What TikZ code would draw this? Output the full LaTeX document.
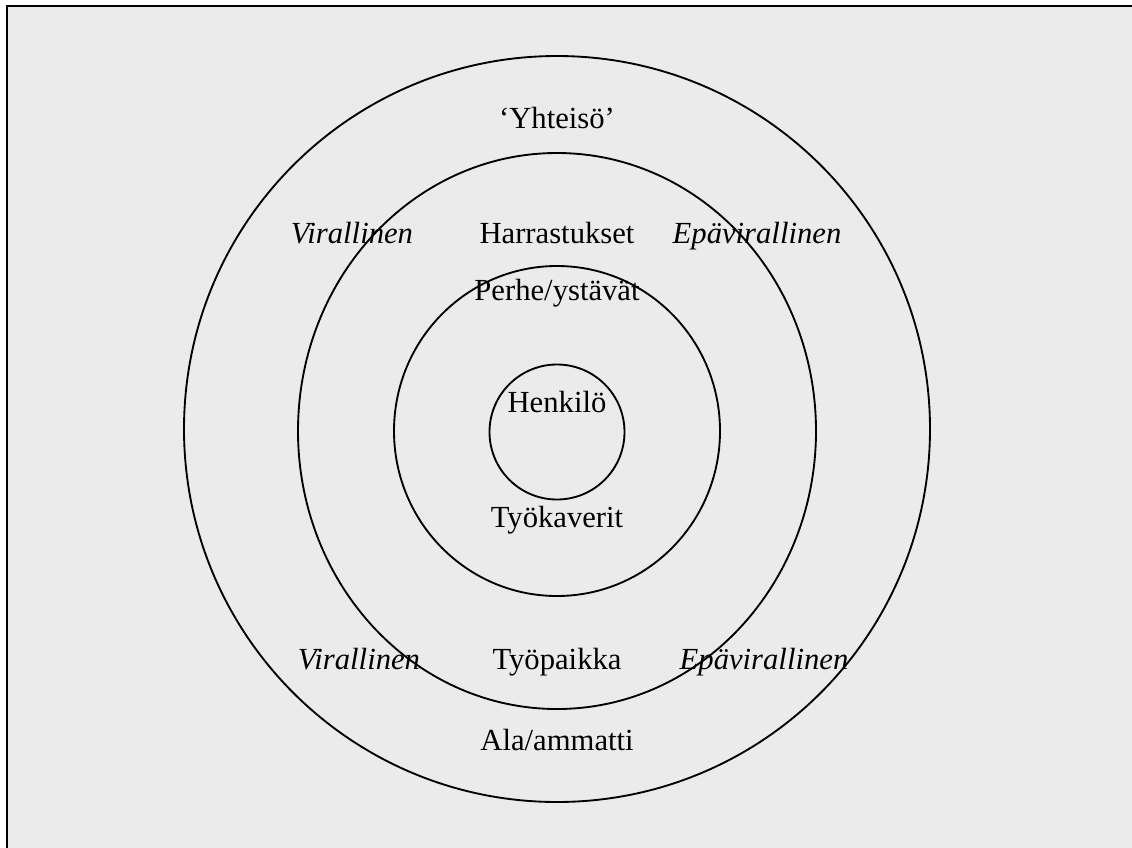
\documentclass[tikz,border=0pt]{standalone}
\usepackage{fontspec}
\setmainfont{Liberation Serif}
\begin{document}
\begin{tikzpicture}[x=0.75pt,y=-0.75pt,
  ring/.style={draw=black,line width=1.4pt},
  lbl/.style={inner sep=0pt,anchor=base,font=\fontsize{23}{27}\selectfont},
  ilbl/.style={lbl,font=\fontsize{23}{27}\selectfont\itshape}]
\useasboundingbox (0,0) rectangle (1132,847);
% page frame: grey panel with a black top and left rule
\fill[white] (0,0) rectangle (1132,847);
\fill[fill={rgb,255:red,235;green,235;blue,235}] (6.5,5.5) rectangle (1140,860);
\draw[line width=1.5pt] (6.5,860) -- (6.5,5.5) -- (1140,5.5);
% concentric rings
\draw[ring] (557,429) circle [radius=373];
\draw[ring] (557,431) ellipse [x radius=259, y radius=278];
\draw[ring] (557,431) ellipse [x radius=163, y radius=165];
\draw[ring] (557,432) circle [radius=67.5];
% labels (placed on their baselines)
\node[lbl] (yht) at (557,128) {`Yhteisö'};
\node[ilbl] (vir1) at (352,243) {Virallinen};
\node[lbl] (har) at (557,243) {Harrastukset};
\node[ilbl] (epa1) at (757,243) {Epävirallinen};
\node[lbl] (per) at (557,300) {Perhe/ystävät};
\node[lbl] (hen) at (557,412) {Henkilö};
\node[lbl] (tyk) at (557,527) {Työkaverit};
\node[ilbl] (vir2) at (359,669) {Virallinen};
\node[lbl] (typ) at (557,669) {Työpaikka};
\node[ilbl] (epa2) at (764,669) {Epävirallinen};
\node[lbl] (ala) at (557,750) {Ala/ammatti};
\end{tikzpicture}
\end{document}
